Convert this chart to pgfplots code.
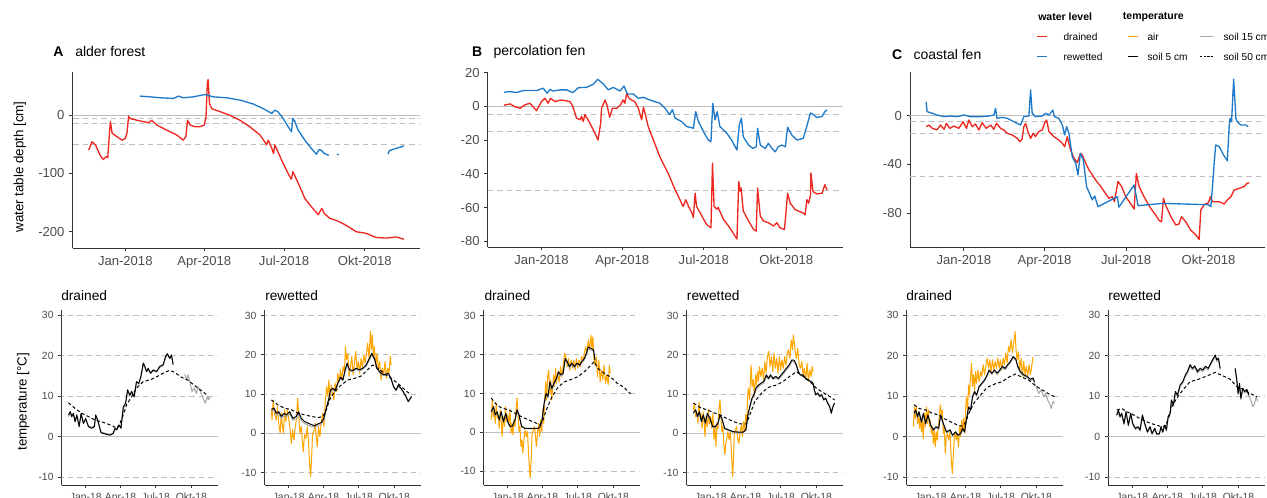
\documentclass[border=0pt]{standalone}
\usepackage{pgfplots}
\pgfplotsset{compat=1.18}
\usepackage{fontspec}
\setmainfont{Liberation Sans}
\definecolor{wred}{RGB}{236,40,32}
\definecolor{wblue}{RGB}{30,122,200}
\definecolor{wair}{RGB}{255,165,0}
\definecolor{wgray}{RGB}{165,165,165}
\definecolor{refg}{RGB}{190,190,190}
\pgfplotsset{
  basex/.style={scale only axis, axis lines*=left, enlargelimits=false,
    axis line style={-,draw=black!80, line width=0.6pt},
    every tick/.style={draw=black!80, line width=0.6pt},
    tick align=outside, major tick length=2.6pt,
    tick label style={text=black!70}, xtick={0,90,181,273},
    unbounded coords=jump, clip=true},
  wtop/.style={basex, height=131.7pt, xmin=-60, xmax=336,
    xticklabels={Jan-2018,Apr-2018,Jul-2018,Okt-2018},
    tick label style={font=\fontsize{9.8pt}{11pt}\selectfont}},
  wbot/.style={basex, width=117pt, height=131.25pt, xmin=-62, xmax=341,
    xticklabels={Jan-18,Apr-18,Jul-18,Okt-18},
    ytick={-10,0,10,20,30}, yticklabels={-10,0,10,20,30},
    tick label style={font=\fontsize{7.8pt}{9pt}\selectfont}},
  zl/.style={refg, line width=0.75pt},
  dl/.style={refg, line width=0.75pt, dash pattern=on 4pt off 3pt},
  wl/.style={line width=1.0pt, line join=round},
  air/.style={wair, line width=0.75pt, line join=round},
  s5/.style={black, line width=0.75pt, line join=round},
  s15/.style={wgray, line width=0.75pt, line join=round},
  s50/.style={black, line width=0.75pt, dash pattern=on 2.4pt off 1.8pt},
}
\newcommand{\bref}{%
  \addplot[zl] coordinates {(-70,0) (350,0)};
  \addplot[dl] coordinates {(-70,-10) (350,-10)};
  \addplot[dl] coordinates {(-70,10) (350,10)};
  \addplot[dl] coordinates {(-70,20) (350,20)};
  \addplot[dl] coordinates {(-70,30) (350,30)};}
\newcommand{\tref}{%
  \addplot[zl] coordinates {(-70,0) (350,0)};
  \addplot[dl] coordinates {(-70,-5) (350,-5)};
  \addplot[dl] coordinates {(-70,-15) (350,-15)};
  \addplot[dl] coordinates {(-70,-50) (350,-50)};}
\begin{document}
\begin{tikzpicture}
\useasboundingbox (0,0) rectangle (950.25pt,373.5pt);
% ---------------- top A
\begin{axis}[wtop, at={(54.5pt,187.5pt)}, width=260.5pt, height=132pt, ymin=-228, ymax=74,
  ytick={-200,-100,0}, yticklabels={-200,-100,0}]
\tref
\addplot[wl, wred] coordinates {(-41.7,-60) (-37.9,-45.7) (-34,-51) (-28,-71) (-25,-76) (-21.6,-71) (-20,-73) (-17.8,-25.7) (-17,-11.4) (-15,-31) (-9.5,-37) (-3.8,-43) (0,-40) (1.9,-31) (3.8,-2) (5.7,-6) (17,-10) (26.5,-13) (30,-9) (36,-17) (47.4,-26) (58.7,-34) (66,-43) (69,-37) (71,-9) (74,-17) (79.6,-20) (85,-20) (90,-17) (92,-3) (93.6,55) (94.4,61) (96,20) (98.5,11) (108,6) (119,0) (131,-9) (142,-20) (153.5,-34) (159,-46) (161,-51) (163,-43) (167,-57) (169,-66) (170.5,-51) (174,-63) (180,-83) (187.6,-106) (189.5,-110) (191,-97) (193,-103) (199,-123) (204.7,-143) (212,-157) (220,-171) (224,-160) (227,-169) (233,-177) (241,-181) (248,-186) (256,-193) (263,-200) (275,-203) (286,-210) (297.5,-211) (309,-209) (317.6,-213)};
\addplot[wl, wblue] coordinates {(17,32.6) (28,31.4) (40,29.7) (55,28.6) (60.6,32.6) (66,29.7) (77.7,31.4) (91,35.4) (100,31.4) (115.6,29.7) (131,25.7) (146,19) (157,11.4) (167,2.9) (170.5,8.6) (174,5.7) (180,-5.7) (185.7,-20) (189.5,-28.6) (191,-5.7) (193,-9.7) (197,-25.7) (204.7,-43) (212,-57) (218,-67) (221,-59) (223,-60) (227,-66) (232,-69) (236,nan) (241.5,-67) (243.5,-68) (246,nan) (299.5,-67) (301,-61) (307,-58) (317.6,-53)};
\end{axis}
% ---------------- top B
\begin{axis}[wtop, at={(365.8pt,188.25pt)}, width=266.25pt, height=131.5pt, ymin=-83.4, ymax=20.5,
  ytick={-80,-60,-40,-20,0,20}, yticklabels={-80,-60,-40,-20,0,20}]
\tref
\addplot[wl, wred] coordinates {(-42,0.6) (-35,1.4) (-30,-0.2) (-24,-1.2) (-18.6,0.8) (-13,1.8) (-5.6,-2.6) (0,2.8) (3.7,4.7) (7.4,1.8) (10,4.7) (15,2.8) (22,3.7) (31.7,2.8) (35,-0.2) (39,-7) (43,-8) (44.7,-6) (46.5,-9) (48.4,-5) (54,-10) (59.6,-16) (63,-20) (66,-10) (67,-1.2) (70.8,3.7) (73,0.8) (76,-6.5) (79,-1.2) (84,-1.2) (88,0.8) (91,3.7) (93,1.8) (95,7.7) (97.6,4.7) (100.5,3.7) (104,2.8) (108,-1.2) (111.7,-8) (113.6,-0.6) (115.4,-4) (119,-12) (124.8,-20) (132,-30) (141.5,-40) (149,-49.5) (152.7,-53.5) (158,-59.4) (161,-55.4) (164,-59.4) (167.6,-63) (169.4,-66) (171.3,-51.5) (173,-59.4) (178.8,-65) (184,-70) (189,-72) (190.7,-33.7) (192.5,-59.4) (195.5,-61) (197,-60) (203,-67) (210,-72) (218,-78.7) (220,-44.6) (221.7,-50.5) (222.7,-48.5) (225,-62) (231,-68) (236.5,-73) (239.5,-74) (241,-48.5) (244,-65) (247.6,-68) (253,-69) (259,-71) (262.5,-69) (266,-72) (271,-73) (274.5,-51.5) (277.4,-57.4) (283,-61.3) (292,-63.3) (294,-64.3) (296,-55.4) (298,-57.4) (300,-52.5) (300.5,-39.6) (302.8,-50.5) (307,-52) (313,-51.5) (316,-46.5) (318.4,-49.5)};
\addplot[wl, wblue] coordinates {(-42,8.3) (-35,8.7) (-28,8.1) (-20.5,9.3) (-13,9.3) (-5.6,9.3) (1.9,10.7) (6.3,7.7) (9.3,10) (13,9) (20.5,9.7) (28,9.7) (35,8.1) (41,11) (50,11.2) (57.7,13) (62.6,16) (69,13.2) (74.5,9.7) (80,11.2) (87.5,9) (92,12) (95.7,7.3) (102.4,7.3) (108,4.7) (113.6,5.3) (121,3.7) (132,1.8) (137.8,-1.2) (143,-5) (146,-2) (149,-7) (156,-9) (162,-12) (169.4,-13) (172,-3.2) (175,-9) (180.6,-15) (186,-20) (189,-21) (191,1.8) (193.6,-8) (196,-3.2) (199,-12) (206.7,-16) (212,-20) (218,-26) (220.6,-11) (223,-7) (225,-18) (231,-23) (235.7,-25) (239.5,-24) (241,-13) (244,-23) (249.5,-25) (253,-22) (257,-25) (260.7,-27) (264,-24) (268,-23) (272,-24) (274.5,-12.4) (279,-17) (285,-20) (292,-19) (295.3,-13) (300,-4) (303.5,-5) (307,-6.7) (313,-6) (316,-3.2) (318.4,-2.2)};
\end{axis}
% ---------------- top C
\begin{axis}[wtop, at={(682.5pt,188pt)}, width=266.25pt, height=131.7pt, ymin=-107.9, ymax=36,
  ytick={-80,-40,0}, yticklabels={-80,-40,0}]
\tref
\addplot[wl, wred] coordinates {(-42,-9) (-39,-7.7) (-35,-10.4) (-30,-11.7) (-26,-7.7) (-22,-11.2) (-19.4,-6.3) (-15.6,-10.4) (-11,-8.5) (-5.6,-10.4) (-0.7,-5) (3,-10.4) (5.6,-3.6) (9.3,-9) (13,-6.8) (16.8,-11.7) (20.5,-5.7) (25,-10.4) (30,-7.7) (33.5,-11.2) (36.5,-6.3) (41,-10.4) (44.7,-11.7) (48.4,-14.5) (54,-15.8) (59.6,-18.6) (62.6,-21.3) (65,-19.4) (67,-9) (69,-6.3) (71.5,-13) (74.5,-18.6) (77.5,-14.5) (80,-17.2) (83.8,-13) (87.5,-11.7) (90,-6.3) (92.4,-3.6) (95,-13) (100.5,-17.2) (106,-20) (110,-22.7) (112.5,-25.4) (115.4,-17.2) (119,-28) (123,-35) (126.6,-38.5) (130,-30.9) (132,-32) (136,-39) (139.7,-44.5) (143.4,-48.6) (147,-52.7) (152.7,-58) (158,-63.7) (162,-67.8) (165.7,-66.4) (168,-70.5) (172,-54) (176,-58) (180.6,-66.4) (186,-72) (190,-76.5) (192.5,-47.3) (195.5,-58) (201,-66.4) (208.5,-76) (214,-81.4) (218,-86) (220.5,-87) (222.7,-67.8) (225,-73) (231,-82.8) (236.5,-89.6) (240,-88.8) (242.8,-82.8) (247.6,-87) (253,-93.7) (259,-97.8) (262.5,-101.4) (264.4,-77.3) (268,-73) (273,-71.3) (275,-66.4) (277.4,-70.5) (285,-70.5) (290.5,-72.4) (294,-69) (298,-66.4) (301.6,-61) (307,-59.6) (313,-58) (315.8,-55.5) (318.4,-55)};
\addplot[wl, wblue] coordinates {(-42,11.5) (-41,3.3) (-35,1.9) (-30,0.5) (-22,-0.8) (-15,-0.3) (-7.4,-0.8) (0,0.5) (7.4,-0.8) (18.6,-0.8) (28,-0.3) (33.5,0.5) (35.4,6) (37,-2.2) (42.8,-1.4) (48.4,-2.2) (56,-5) (63.3,-7.7) (67,-0.8) (72.6,-0.3) (74.5,21) (76.3,1.9) (80,-0.8) (87.5,-0.3) (91,1.9) (95,0.5) (99.4,4.6) (101,-0.8) (106,-2.2) (110,-7.7) (112.5,-15.8) (114.7,-9) (117.3,-14.5) (121,-33.6) (124.8,-39) (127.4,-48.6) (130,-30.9) (133.3,-36.3) (137,-58.2) (143.4,-69) (146,-65.8) (149.7,-74.6) (171.3,-66.4) (173,-75) (190,-56.8) (194.4,-73.8) (221.6,-71.9) (273,-73) (275.6,-74.6) (277.4,-58.2) (279.3,-39) (281,-24) (285,-25.4) (289.7,-32.2) (293.5,-36.3) (294,-37) (296,-9) (297,-2.2) (298.7,-5) (301,29.8) (302.4,12.8) (303.5,-2.2) (305,-5) (309,-7.7) (314.7,-7.7) (317.3,-9)};
\end{axis}
% ---------------- bottom A drained
\begin{axis}[wbot, at={(46.3pt,9.75pt)}, ymin=-11.9, ymax=31.3]
\bref
\addplot[s15] coordinates {(-44.6,5.0) (-40,5.8) (-36,4.9) (-31.8,5.5) (-27.5,3.9) (-23,5.0) (-17,2.9) (-12,5.3) (-6,3.5) (0,4.2) (7,2.7) (15.5,2.3) (22.3,2.7) (25.8,5.0) (31,4.0) (39.5,1.2) (50,0.9) (62.7,0.6) (71,0.9) (75.5,1.9) (80,1.8) (86,2.7) (91,2.3) (97,6.9) (103,8.0) (108,11.0) (114,10.1) (118.5,10.8) (125,9.8) (131,13.1) (137,13.0) (142.5,14.6) (148.5,17.6) (152.8,17.1) (157,16.0) (161.4,16.6) (167.4,15.6) (174,16.3) (183,16.0) (191.4,17.1) (200,17.5) (206,19.4) (211,20.2) (217,19.2) (221.5,19.9) (225.8,17.9) (240,nan) (256,15.5) (260,14) (264.4,15.3) (268.7,13.6) (274.7,11.2) (280,12) (286,10.7) (290,12.4) (296,11.2) (303,9.5) (309,8.3) (314,9.9) (317.6,9.1) (320,9.9)};
\addplot[s5] coordinates {(-44.6,5.4) (-40,6.2) (-36,5) (-31.8,5.8) (-27.5,3.7) (-23,5.4) (-17,2.5) (-12,5.8) (-6,3.3) (0,4.5) (7,2.5) (15.5,2.1) (22.3,2.5) (25.8,5.4) (31,4.1) (39.5,1) (50,0.7) (62.7,0.4) (71,0.8) (75.5,2.1) (80,1.7) (86,2.9) (91,2.1) (97,7.4) (103,8.3) (108,11.6) (114,10.3) (118.5,11.2) (125,9.9) (131,13.6) (137,13.2) (142.5,14.9) (148.5,18.2) (152.8,17.4) (157,16.1) (161.4,16.9) (167.4,15.7) (174,16.5) (183,16.1) (191.4,17.4) (200,17.8) (206,19.8) (211,20.5) (217,19.4) (221.5,20.2) (225.8,17.8)};
\addplot[s50] coordinates {(-44.6,8.4) (-27.5,7) (-10.3,5.8) (7,5) (24,4.1) (41,3.7) (58.4,3.1) (71,2.6) (80,2.1) (88.4,3.3) (97,5.4) (105.6,7.9) (118.5,9.9) (131,12) (148.5,13.6) (170,14.2) (187,15) (204,15.9) (217,16.4) (230,15.9) (247,14.7) (264,14) (281.6,12.6) (298.8,11.4) (316,10.1)};
\end{axis}
% ---------------- bottom A rewetted
\begin{axis}[wbot, at={(198.5pt,9.75pt)}, ymin=-13.2, ymax=31.45]
\bref
\addplot[air] coordinates {(-44.6,6) (-43,3.4) (-40,8.5) (-36,4.7) (-32,3.4) (-29,6.8) (-25.8,2.6) (-22,0) (-19,5.1) (-16,1.7) (-13.7,0) (-10.3,6) (-7,3) (-3.4,6) (0,3.8) (3.4,1.3) (7,-2.6) (10.3,0.9) (13.7,-1.7) (17,1.7) (20.6,3.8) (23,8.9) (25.8,5.1) (29,0) (32.6,1.7) (35,-1.7) (37.8,-4.7) (41,-0.4) (44.6,-1.3) (48,1.7) (51.5,-2.6) (54,-7.7) (56.7,-11) (59,-6.8) (61.8,0) (65,0.4) (68.7,2.6) (71,-0.9) (73.8,-3.4) (77,1.7) (80.7,-0.9) (84,2.6) (87.6,5.1) (91,1.7) (94.4,7.7) (98,11.9) (101,9.4) (104,13.6) (106.5,8.5) (110,12.3) (113,10.2) (116.8,8.5) (120,12.8) (123.6,10.6) (127,15.3) (130.5,13.2) (134,16.2) (137,13.6) (140.8,17) (144,15.7) (146.8,22.1) (149,18.7) (152.8,20.4) (156,14.5) (159.7,17) (163,19.6) (166.5,14.9) (170,17.9) (173,20.9) (177,16.2) (180,18.3) (183.7,15.3) (187,19.1) (190.6,16.6) (194,20) (197.5,17.9) (201,20.4) (204,23) (207.8,19.1) (211,26) (213.8,21.3) (216,25.1) (219,19.6) (221.5,22.1) (225,17) (228,20.4) (231.8,16.2) (235,18.3) (238.7,13.6) (242,16.6) (245.5,14.9) (249,18.3) (252.4,14) (256,16.6) (259,15.3) (262.7,19.6) (264.4,17.4)};
\addplot[s15] coordinates {(-44.6,5.6) (-37.8,5.9) (-31.8,4.6) (-25.8,5.0) (-19,3.8) (-12,4.6) (-6,4.2) (2.6,5.0) (11,3.3) (19.7,3.8) (25.8,5.0) (32.6,3.3) (41,2.5) (54,1.9) (67,1.5) (75.5,2.0) (84,2.3) (91,3.4) (97,6.0) (103,8.2) (108,10.6) (114,11.1) (120,10.6) (127,12.5) (134,14.0) (140,13.4) (146,15.8) (151,17.4) (157,15.9) (165.7,15.7) (174,16.3) (183,15.9) (191.4,16.3) (200,17.1) (208.6,18.7) (214.6,20.0) (221.5,18.8) (228,16.4) (238.7,15.0) (247,14.7) (257.5,15.0) (264.4,13.8) (271,11.8) (277.3,10.8) (283,12.0) (290,11.3) (296,10.5) (303,9.2) (309,8.0) (314,8.8) (317.6,9.2)};
\addplot[s5] coordinates {(-44.6,6.1) (-37.8,6.4) (-31.8,5.1) (-25.8,5.5) (-19,4.3) (-12,5.1) (-6,4.7) (2.6,5.5) (11,3.8) (19.7,4.3) (25.8,5.5) (32.6,3.8) (41,3) (54,2.4) (67,1.9) (75.5,2.4) (84,2.7) (91,3.8) (97,6.4) (103,8.5) (108,11) (114,11.5) (120,10.9) (127,12.8) (134,14.3) (140,13.6) (146,16.2) (151,17.9) (157,16.2) (165.7,16) (174,16.6) (183,16.2) (191.4,16.6) (200,17.4) (208.6,19.1) (214.6,20.4) (221.5,19.1) (228,16.6) (238.7,15.3) (247,14.9) (257.5,15.3) (264.4,14) (271,11.9) (277.3,11) (283,12.3) (290,11.5) (296,10.6) (303,9.4) (309,8.1) (314,8.9) (317.6,9.4)};
\addplot[s50] coordinates {(-44.6,8.5) (-27.5,7.2) (-10.3,6.4) (7,6) (24,5.1) (41,4.7) (58.4,4.3) (75.5,4) (88.4,4.3) (97,6) (105.6,8.5) (118.5,10.6) (135.6,12.3) (152.8,13.6) (170,14) (187,14.6) (204,16.2) (217,17.4) (230,16.6) (247,15.3) (264.4,14) (281.6,12.8) (298.8,11.2) (316,9.8)};
\end{axis}
% ---------------- bottom B drained
\begin{axis}[wbot, at={(362.8pt,9.75pt)}, ymin=-13.6, ymax=31.5]
\bref
\addplot[air] coordinates {(-42.7,3.2) (-40,8.3) (-37.5,4) (-35,5.8) (-32.4,2.3) (-30,7.5) (-27.3,3.6) (-24.7,4.5) (-22,1) (-19.6,5.8) (-17,3.2) (-14.5,-1.1) (-12,4) (-8.5,1.5) (-6,6.6) (-3.4,2.7) (0,4.5) (2.6,1.9) (6,5.8) (8.5,-0.3) (11,2.3) (13.6,-0.7) (16,3.2) (18.8,1.5) (21.3,5.8) (24,8.8) (26.4,4.9) (29,0.2) (31.6,1.5) (34,-3.7) (36.7,-2) (39,-5.4) (41.8,-2) (44.4,0.6) (47.8,-1.1) (51,0.2) (53.7,-5.4) (56.3,-9.7) (58,-11.8) (60.6,-7.1) (63,-0.3) (66.5,0.6) (69,1.5) (71.7,-1.1) (74,-3.7) (76.8,-0.3) (80,2.3) (82.7,-1.1) (85.3,3.2) (88,0.2) (90.4,5.8) (93,2.3) (95.5,8.3) (98,13) (100.7,8.3) (103,14.3) (105.8,16) (108.3,10) (111,13.5) (113.5,8.3) (116,11.3) (118.6,14.8) (121,11.8) (123.7,16.5) (126,12.6) (129.7,15.6) (133,13) (136.5,16.9) (140,14.3) (143,16.9) (146.7,20.3) (150,19.5) (153.5,16.9) (157,19) (160.4,16) (163.8,18.6) (167,16.5) (170.6,18.6) (174,16) (177.4,19) (181,16.5) (184,18.6) (187.7,16.9) (191,19.5) (194.5,18.2) (198,20.3) (201,22) (204.7,20.3) (208,23.8) (211.5,21.2) (215,25) (217.5,21.6) (220,24.6) (222.6,19.5) (225,17.3) (228.6,19.5) (232,14.3) (235.4,18.6) (238.8,13) (242,16) (245.7,13.5) (249,17.3) (252.5,12.6) (256,14.8) (259.3,12.2) (262.7,17.3) (264.4,15.2)};
\addplot[s15] coordinates {(-42.7,5.0) (-36.7,6.2) (-32.4,4.3) (-27.3,5.0) (-22,3.0) (-17,5.0) (-11,2.6) (-5,4.6) (0,2.6) (6,1.4) (12,1.4) (18.8,3.0) (24,5.4) (29,4.3) (35.8,1.4) (44.4,0.9) (57,0.9) (70,0.9) (78.5,0.9) (83.6,1.3) (88.7,2.9) (94,7.0) (99,9.6) (104,8.9) (109,12.5) (114,11.0) (119.4,12.3) (126,13.6) (131,15.2) (136.5,14.5) (143,14.9) (148.4,18.6) (153.5,17.9) (159.5,16.6) (165.5,17.5) (172,16.6) (179,17.5) (186,17.0) (191,17.9) (198,18.7) (203,20.0) (208,21.5) (215,21.2) (221.8,20.8) (225,18.4)};
\addplot[s5] coordinates {(-42.7,5.3) (-36.7,6.6) (-32.4,4.5) (-27.3,5.3) (-22,3.2) (-17,5.3) (-11,2.7) (-5,4.9) (0,2.7) (6,1.5) (12,1.6) (18.8,3.2) (24,5.8) (29,4.5) (35.8,1.5) (44.4,1) (57,1) (70,1) (78.5,1) (83.6,1.5) (88.7,3.2) (94,7.5) (99,10) (104,9.2) (109,13) (114,11.3) (119.4,12.6) (126,13.9) (131,15.6) (136.5,14.8) (143,15.2) (148.4,19) (153.5,18.2) (159.5,16.9) (165.5,17.8) (172,16.9) (179,17.8) (186,17.3) (191,18.2) (198,19) (203,20.3) (208,22) (215,21.6) (221.8,21.2) (225,18.6)};
\addplot[s50] coordinates {(-42.7,8.8) (-28,7) (-15.4,6.2) (1.7,5.8) (18.8,4.9) (35.8,4) (53,3.2) (70,2.5) (82.7,1.9) (91,3.2) (100,5.8) (112.6,8.8) (129.7,11.6) (146.7,13) (163.8,13.6) (181,14.3) (198,15.6) (215,17.3) (223.5,18.2) (232,16.5) (249,15.2) (266,14.2) (283,12.6) (300,11.6) (317,9.9)};
\end{axis}
% ---------------- bottom B rewetted
\begin{axis}[wbot, at={(515pt,9.75pt)}, ymin=-13.2, ymax=31.45]
\bref
\addplot[air] coordinates {(-44.6,6) (-42,7.7) (-39,4.2) (-36,5.5) (-33,2.5) (-30,7.9) (-27.3,3.8) (-24.7,4.9) (-22,1.2) (-19.6,5.5) (-17,3) (-14.5,-0.9) (-12,4.3) (-8.5,1.7) (-6,6.2) (-3.4,2.4) (0,4.3) (2.6,1.3) (6,5.1) (8.5,-1.5) (11,2.1) (13.6,-3.4) (16,2.8) (18.8,1.1) (21.3,6) (24,8.5) (26.4,4.5) (29,0.4) (31.6,1.7) (34,-3) (36.7,-5.5) (39,-2.6) (41.8,-1.3) (44.4,0.4) (47.8,-1.7) (51,0.6) (53.7,-5.1) (56.7,-11) (58.5,-7.7) (61,-0.4) (64,0.9) (67,1.7) (70,-1.5) (73,-2.6) (76,0.4) (79,2.1) (82,-0.9) (85,3) (88,0.4) (90.4,4.7) (93,2.6) (95.5,9.4) (97.5,11.5) (100.7,8.5) (103,14.5) (104.5,17.4) (107,11.9) (110,13.6) (113,9.4) (116,14.9) (118.6,12.3) (121,15.7) (123.7,13.2) (126,17) (129.7,14.5) (133,16.6) (136.5,13.6) (140,18.3) (143,15.3) (146.7,19.6) (150,20.9) (153.5,17) (157,19.6) (160.4,15.7) (163.8,20.4) (167,16.6) (170.6,19.1) (174,15.3) (177.4,19.6) (181,16.2) (184,18.7) (187.7,16.6) (191,19.6) (194.5,17.4) (198,20.4) (201,21.3) (204.7,19.1) (208,23.8) (211.5,21.3) (213.5,25.1) (216,23) (219,20.4) (221.5,19.1) (225,21.7) (228.6,17.4) (232,16.6) (235.4,18.3) (238.8,14.9) (242,16.6) (245.7,13.6) (249,17.9) (252.5,13.2) (256,16.2) (259.3,14.5) (262.7,17) (264.4,15.7)};
\addplot[s15] coordinates {(-44.6,5.0) (-38.6,5.7) (-34.3,4.0) (-29,5.1) (-24,2.8) (-19,4.4) (-13.7,2.4) (-8.6,4.8) (-1.7,3.5) (5,1.5) (12,1.5) (19,2.4) (24,4.4) (29,3.5) (36,1.1) (45.5,0.7) (58.4,0.3) (71,0.2) (84,0.2) (91,0.7) (96,4.3) (101,6.4) (106.5,8.5) (111.6,9.4) (116.8,11.1) (123.6,11.9) (130.5,12.4) (137,12.8) (144,14.5) (149.4,13.7) (154.5,14.5) (161.4,13.7) (168,14.1) (175,13.7) (182,14.5) (189,15.3) (195.7,16.2) (202.6,17.0) (209.5,18.3) (216,18.2) (221.5,17.1) (226.6,15.5) (231.8,14.7) (238.7,14.7) (245.5,13.8) (252.4,13.4) (259,13.0) (264.4,12.6) (267.8,11.0) (271.3,9.9) (276.4,10.4) (281.6,9.6) (286.7,10.0) (292,8.7) (297,9.1) (302,7.9) (307.3,7.0) (311.6,5.6) (316,7.0) (320,7.8)};
\addplot[s5] coordinates {(-44.6,5.3) (-38.6,6) (-34.3,4.3) (-29,5.5) (-24,3) (-19,4.7) (-13.7,2.6) (-8.6,5.1) (-1.7,3.8) (5,1.7) (12,1.7) (19,2.6) (24,4.7) (29,3.8) (36,1.3) (45.5,0.9) (58.4,0.4) (71,0.3) (84,0.3) (91,0.9) (96,4.7) (101,6.8) (106.5,8.9) (111.6,9.8) (116.8,11.5) (123.6,12.3) (130.5,12.8) (137,13.2) (144,14.9) (149.4,14) (154.5,14.9) (161.4,14) (168,14.5) (175,14) (182,14.9) (189,15.7) (195.7,16.6) (202.6,17.4) (209.5,18.7) (216,18.6) (221.5,17.4) (226.6,15.7) (231.8,14.9) (238.7,14.9) (245.5,14) (252.4,13.6) (259,13.2) (264.4,12.8) (267.8,11.1) (271.3,9.8) (276.4,10.2) (281.6,9.4) (286.7,9.8) (292,8.5) (297,8.9) (302,7.7) (307.3,6.8) (311.6,5.1) (316,6.8) (320,7.7)};
\addplot[s50] coordinates {(-44.6,7.7) (-27.5,6.6) (-10.3,6) (7,5.3) (24,4.7) (41,3.8) (58.4,3) (75.5,2.4) (92.7,2.4) (101,4.7) (114,8.1) (131,10.2) (148.5,11.7) (170,12.3) (187,13.2) (204,14.5) (221.5,15.7) (238.7,14.5) (256,13.2) (273,11.5) (290,10.4) (307,9.4) (320,8.5)};
\end{axis}
% ---------------- bottom C drained
\begin{axis}[wbot, at={(680pt,9.75pt)}, ymin=-11.9, ymax=31.3]
\bref
\addplot[air] coordinates {(-44.6,2.5) (-42,7.4) (-39.5,4.5) (-37,7.4) (-34,3.3) (-31.8,5.8) (-29,2.1) (-26.6,5) (-24,1.2) (-21.5,4.1) (-19,-0.4) (-16.3,5.8) (-13.7,2.5) (-11,7.4) (-8.6,3.3) (-6,6.6) (-3.4,2.5) (-1,4.1) (1.7,0.8) (4.3,2.5) (7,-1.7) (9.4,1.7) (12,-2.5) (14.6,1.2) (17,-0.8) (19.7,2.5) (22.3,5) (25,7.9) (27.5,5.4) (30,6.6) (32.6,0.8) (35,2.5) (37.8,-4.1) (40.3,0) (43,0.8) (46.4,-0.8) (50,1.2) (53,-5) (55.8,-9.1) (58.4,-5) (61,0) (63.5,1.2) (66,-0.8) (68.7,0.8) (72,-2.5) (74.7,2.5) (77.3,0) (80,4.1) (82.4,1.2) (85,4.5) (87.6,0.8) (90,6.6) (92.7,9.9) (95.3,6.6) (98,12.8) (100.4,10.3) (103,14.9) (105.6,18.2) (108,12.4) (110.7,15.3) (113.3,11.6) (116,16.1) (118.5,13.2) (122,16.5) (125,13.6) (128.8,16.1) (132,14.9) (135.6,17.8) (139,15.3) (142.5,17.4) (146,19.4) (149.4,16.9) (152.8,19) (156,16.1) (159.7,19) (163,16.5) (166.5,18.6) (170,16.9) (173.4,19.4) (177,16.9) (180,19) (183.7,16.5) (187,19.4) (190.6,17.8) (194,20.7) (197.5,18.2) (201,22.3) (204,21) (207.8,24) (211,20.7) (214.6,23.1) (218,26) (220.6,21.5) (223,19) (226.6,21) (230,16.5) (233.5,19.4) (237,14.9) (240.4,18.6) (243.8,15.3) (247,17.4) (250.7,14.9) (254,17.8) (257.6,15.3) (261,17.4) (264.4,19.7)};
\addplot[s15] coordinates {(-43,5.5) (-38.6,6.3) (-34,4.7) (-30,5.9) (-24,3.5) (-19,5.5) (-13,3.0) (-7,5.1) (0,2.7) (7,1.5) (13.7,2.3) (20.6,1.9) (25.8,5.1) (32.6,3.1) (41,1.0) (50,1.5) (56.7,0.3) (64.4,1.0) (70.4,0.3) (77.3,0.6) (82.4,1.9) (87.6,1.0) (92.7,4.2) (98,7.1) (103,6.3) (108,9.6) (113.3,10.9) (118.5,10.0) (125,12.1) (132,12.9) (139,13.7) (146,15.0) (151,16.2) (158,15.4) (164.8,16.2) (171.7,15.4) (178.6,16.2) (185.4,17.1) (192.3,16.6) (199,17.5) (206,18.3) (213,19.5) (219.8,18.9) (225,17.1) (231.8,15.8) (240.4,15.0) (249,14.6) (257.6,13.9) (264.4,14.2) (268,13.3) (273,12.4) (279,10.7) (285,11.6) (292,9.9) (297,10.7) (302,9.1) (307,8.3) (311.6,7) (316,8.7) (320,8.3)};
\addplot[s5] coordinates {(-43,5.8) (-38.6,6.6) (-34,5) (-30,6.2) (-24,3.7) (-19,5.8) (-13,3.3) (-7,5.4) (0,2.9) (7,1.7) (13.7,2.5) (20.6,2.1) (25.8,5.4) (32.6,3.3) (41,1.2) (50,1.7) (56.7,0.4) (64.4,1.2) (70.4,0.4) (77.3,0.8) (82.4,2.1) (87.6,1.2) (92.7,4.5) (98,7.4) (103,6.6) (108,9.9) (113.3,11.2) (118.5,10.3) (125,12.4) (132,13.2) (139,14) (146,15.3) (151,16.5) (158,15.7) (164.8,16.5) (171.7,15.7) (178.6,16.5) (185.4,17.4) (192.3,16.9) (199,17.8) (206,18.6) (213,19.8) (219.8,19.2) (225,17.4) (231.8,16.1) (240.4,15.3) (249,14.9) (257.6,14.2) (264.4,14.5) (268,13.6)};
\addplot[s50] coordinates {(-43,7.9) (-30,7) (-13,6.6) (4.3,5.8) (21.5,5.4) (34.3,4.5) (51.5,3.7) (68.7,2.9) (81.6,2.6) (90,3.5) (98.7,5.8) (111.6,8.3) (128.8,10.3) (146,12.2) (167.4,13.1) (184.6,13.6) (201.7,14.7) (219,15.5) (236,14.7) (253,14) (270.4,12.6) (287.6,11.6) (304.8,10.6) (320,9.9)};
\end{axis}
% ---------------- bottom C rewetted
\begin{axis}[wbot, at={(831.2pt,9.75pt)}, width=117.5pt, ymin=-11.9, ymax=31.3]
\bref
\addplot[s15] coordinates {(-40.3,5.1) (-36,6.2) (-31.8,4.7) (-27.5,5.5) (-21.5,3.0) (-16.3,5.8) (-10.3,2.6) (-4.3,5.5) (0.9,3.0) (7.7,1.8) (14.6,2.2) (19.7,1.4) (25.8,5.0) (31.8,3.0) (38.6,1.0) (45.5,2.2) (50.6,0.6) (57.5,1.8) (62.7,0.5) (69.5,0.6) (73.8,2.2) (78,1.0) (83.3,2.6) (87.6,1.4) (92,4.6) (97,5.4) (100.4,8.7) (105.6,7.5) (110.7,10.8) (116,9.9) (122.8,12.4) (129.6,13.2) (136.5,14.9) (141.7,15.7) (148.5,17.4) (154.5,16.5) (160.5,17.1) (167.4,15.7) (174.3,16.5) (181,16.1) (188,17.0) (195,16.5) (201.7,17.8) (208.6,19.0) (213,19.8) (217,18.6) (221.5,19.0) (225.8,16.6) (245,nan) (264.4,16.5) (268.7,13.6) (272,10.4) (275.6,12.8) (279,9.2) (284,11.6) (289,10.8) (294.5,11.3) (299.6,10.0) (304.8,9.1) (310,7.4) (314,8.1) (318.5,9.9) (322,8.7)};
\addplot[s5] coordinates {(-40.3,5.4) (-36,6.6) (-31.8,5) (-27.5,5.8) (-21.5,3.3) (-16.3,6.2) (-10.3,2.9) (-4.3,5.8) (0.9,3.3) (7.7,2.1) (14.6,2.5) (19.7,1.7) (25.8,5.4) (31.8,3.3) (38.6,1.2) (45.5,2.5) (50.6,0.8) (57.5,2.1) (62.7,0.7) (69.5,0.8) (73.8,2.5) (78,1.2) (83.3,2.9) (87.6,1.7) (92,5) (97,5.8) (100.4,9.1) (105.6,7.9) (110.7,11.2) (116,10.3) (122.8,12.8) (129.6,13.6) (136.5,15.3) (141.7,16.1) (148.5,17.8) (154.5,16.9) (160.5,17.5) (167.4,16.1) (174.3,16.9) (181,16.5) (188,17.4) (195,16.9) (201.7,18.2) (208.6,19.4) (213,20.2) (217,19) (221.5,19.4) (225.8,16.9) (245,nan) (264.4,16.9) (268.7,14) (272,10.7) (275.6,13.2) (279,9.5) (284,12) (289,11.2) (294.5,11.7) (299.6,10.3)};
\addplot[s50] coordinates {(-40.3,6.6) (-27.5,7) (-14.6,6.2) (2.6,5.4) (19.7,4.5) (37,3.7) (54,3.1) (71.3,2.6) (84,2.6) (92.7,4.5) (101,7.4) (114,9.5) (131,11.7) (148.5,13.6) (170,14.2) (191.4,15) (213,15.9) (234,15) (251.5,14.2) (268.7,12.4) (286,11.6) (303,10.7) (320,9.9)};
\end{axis}
% ---------------- texts
\node[anchor=west, inner sep=0, font=\fontsize{10.5pt}{12pt}\selectfont\bfseries] at (39.75pt,334.7pt) {A};
\node[anchor=west, inner sep=0, font=\fontsize{10.5pt}{12pt}\selectfont] at (56.25pt,334.7pt) {alder forest};
\node[anchor=west, inner sep=0, font=\fontsize{10.5pt}{12pt}\selectfont\bfseries] at (353.8pt,334.7pt) {B};
\node[anchor=west, inner sep=0, font=\fontsize{10.5pt}{12pt}\selectfont] at (370pt,334.7pt) {percolation fen};
\node[anchor=west, inner sep=0, font=\fontsize{10.5pt}{12pt}\selectfont\bfseries] at (668.8pt,332.8pt) {C};
\node[anchor=west, inner sep=0, font=\fontsize{10.5pt}{12pt}\selectfont] at (685pt,332.8pt) {coastal fen};
\node[rotate=90, inner sep=0, font=\fontsize{10pt}{12pt}\selectfont] at (15pt,248.25pt) {water table depth [cm]};
\node[rotate=90, inner sep=0, font=\fontsize{10pt}{12pt}\selectfont] at (17.3pt,72.2pt) {temperature [°C]};
\foreach \xx/\tt in {45.75/drained,198.75/rewetted,363.2/drained,515/rewetted,679.5/drained,831/rewetted}
  \node[anchor=west, inner sep=0, font=\fontsize{10.3pt}{12pt}\selectfont] at (\xx pt,151.5pt) {\tt};
% legend
\node[anchor=west, inner sep=0, font=\fontsize{7.9pt}{9pt}\selectfont\bfseries] at (778.5pt,360.75pt) {water level};
\node[anchor=west, inner sep=0, font=\fontsize{7.9pt}{9pt}\selectfont\bfseries] at (842pt,360.75pt) {temperature};
\draw[wred, line width=0.9pt] (777.5pt,346pt) -- (785pt,346pt);
\node[anchor=west, inner sep=0, font=\fontsize{7.6pt}{9pt}\selectfont] at (797.5pt,346pt) {drained};
\draw[wblue, line width=0.9pt] (777.5pt,331pt) -- (785pt,331pt);
\node[anchor=west, inner sep=0, font=\fontsize{7.6pt}{9pt}\selectfont] at (797.5pt,331pt) {rewetted};
\draw[wair, line width=0.9pt] (846.2pt,346pt) -- (853.7pt,346pt);
\node[anchor=west, inner sep=0, font=\fontsize{7.6pt}{9pt}\selectfont] at (860.5pt,346pt) {air};
\draw[black, line width=0.9pt] (846.2pt,331pt) -- (853.7pt,331pt);
\node[anchor=west, inner sep=0, font=\fontsize{7.6pt}{9pt}\selectfont] at (860.5pt,331pt) {soil 5 cm};
\draw[wgray, line width=0.9pt] (900pt,346pt) -- (910pt,346pt);
\node[anchor=west, inner sep=0, font=\fontsize{7.6pt}{9pt}\selectfont] at (917.5pt,346pt) {soil 15 cm};
\draw[black, line width=0.75pt, dash pattern=on 1.6pt off 1.2pt] (900pt,331pt) -- (910pt,331pt);
\node[anchor=west, inner sep=0, font=\fontsize{7.6pt}{9pt}\selectfont] at (917.5pt,331pt) {soil 50 cm};
\end{tikzpicture}
\end{document}
